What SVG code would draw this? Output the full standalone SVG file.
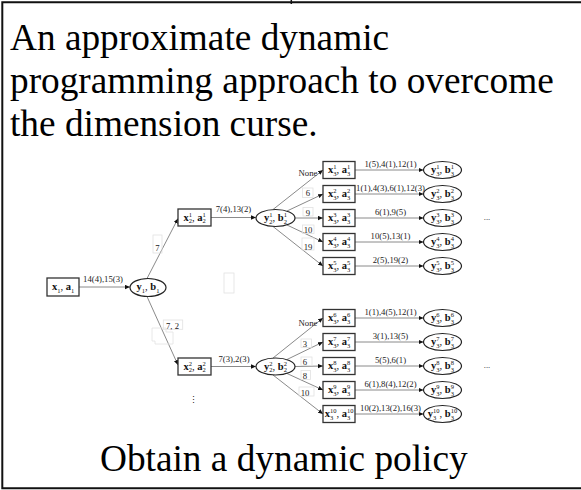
<svg xmlns="http://www.w3.org/2000/svg" width="581" height="490" viewBox="0 0 581 490">
<style>
.frame{fill:none;stroke:#111;stroke-width:2}
.title{font-family:"Liberation Serif","Times New Roman",serif;font-size:37.3px;fill:#000}
.box{fill:#fff;stroke:#333;stroke-width:1.3}
.ell{fill:#fff;stroke:#222;stroke-width:1.2}
.nl{font-family:"Liberation Serif","Times New Roman",serif;font-size:10.5px;fill:#111;text-anchor:middle}
.b{font-weight:bold}
.s{font-size:6.5px}
.edge{fill:none;stroke:#8a8a8a;stroke-width:1;marker-end:url(#ah)}
.el{font-family:"Liberation Serif","Times New Roman",serif;font-size:8.7px;fill:#222;text-anchor:middle}
.lb{fill:none;stroke:#e2e2e2;stroke-width:0.8}
.dots{font-family:"DejaVu Serif","Liberation Serif",serif;font-size:9px;fill:#222;text-anchor:middle}
</style>
<defs>
<marker id="ah" viewBox="0 0 6 6" refX="6" refY="3" markerWidth="5" markerHeight="5" orient="auto" markerUnits="userSpaceOnUse"><path d="M0,0.4 L6,3 L0,5.6 z" fill="#111"/></marker>
</defs>
<rect width="581" height="490" fill="#fff"/>
<path class="frame" d="M581,2.3 H2.3 V488.3 H581"/>
<line x1="291.3" y1="0" x2="291.3" y2="4" stroke="#111" stroke-width="1.5"/>

<g id="title">
<text class="title" x="10" y="50">An approximate dynamic</text>
<text class="title" x="10" y="93">programming approach to overcome</text>
<text class="title" x="10" y="136">the dimension curse.</text>
</g>
<text class="title" x="100" y="471">Obtain a dynamic policy</text>

<g id="connectors">
<line class="edge" x1="79" y1="287" x2="130" y2="287"/>
<line class="edge" x1="147" y1="278.5" x2="178" y2="218.5"/>
<line class="edge" x1="211" y1="217.5" x2="256" y2="217.5"/>
<line class="edge" x1="147" y1="296.5" x2="178" y2="365"/>
<line class="edge" x1="211" y1="366.5" x2="256" y2="366.5"/>
<line class="edge" x1="273" y1="209.5" x2="323" y2="170"/>
<line class="edge" x1="287" y1="211" x2="323" y2="194"/>
<line class="edge" x1="295" y1="218" x2="323" y2="218"/>
<line class="edge" x1="287" y1="225" x2="323" y2="242"/>
<line class="edge" x1="273" y1="226.5" x2="323" y2="266"/>
<line class="edge" x1="273" y1="358" x2="323" y2="318"/>
<line class="edge" x1="287" y1="359.5" x2="323" y2="342"/>
<line class="edge" x1="295" y1="366.5" x2="323" y2="366"/>
<line class="edge" x1="287" y1="373.5" x2="323" y2="390"/>
<line class="edge" x1="273" y1="375" x2="323" y2="414"/>
<line class="edge" x1="355" y1="170" x2="423.5" y2="170"/>
<line class="edge" x1="355" y1="194" x2="423.5" y2="194"/>
<line class="edge" x1="355" y1="218" x2="423.5" y2="218"/>
<line class="edge" x1="355" y1="242" x2="423.5" y2="242"/>
<line class="edge" x1="355" y1="266" x2="423.5" y2="266"/>
<line class="edge" x1="355" y1="318" x2="423.5" y2="318"/>
<line class="edge" x1="355" y1="342" x2="423.5" y2="342"/>
<line class="edge" x1="355" y1="366" x2="423.5" y2="366"/>
<line class="edge" x1="355" y1="390" x2="423.5" y2="390"/>
<line class="edge" x1="355" y1="414" x2="423.5" y2="414"/>
<!-- label boxes (faint) -->
<rect class="lb" x="153" y="235" width="9" height="18"/>
<rect class="lb" x="224" y="273" width="10" height="20"/>
<rect class="lb" x="163.3" y="320" width="19.4" height="9.3"/>
<path class="lb" d="M152,328 H166 V332 H173 V344 H155 V341 H152 Z"/>
<rect class="lb" x="302.5" y="188" width="10.5" height="9.5"/>
<rect class="lb" x="303" y="207.5" width="10" height="8.5"/>
<rect class="lb" x="302.5" y="225" width="11.5" height="8.5"/>
<rect class="lb" x="302" y="238" width="12" height="12"/>
<rect class="lb" x="301" y="339" width="10.5" height="8.5"/>
<rect class="lb" x="301" y="357" width="11" height="8.5"/>
<rect class="lb" x="301" y="370.5" width="9.5" height="9"/>
<rect class="lb" x="299" y="387" width="15" height="9"/>
<!-- edge labels -->
<text class="el" x="103" y="282">14(4),15(3)</text>
<text class="el" x="157.5" y="250.5">7</text>
<text class="el" x="233.5" y="212">7(4),13(2)</text>
<text class="el" x="172.5" y="328.5">7, 2</text>
<text class="el" x="234" y="362">7(3),2(3)</text>
<text class="el" x="308" y="176">None</text>
<text class="el" x="308" y="196">6</text>
<text class="el" x="308" y="215.5">9</text>
<text class="el" x="308" y="232.5">10</text>
<text class="el" x="308" y="250">19</text>
<text class="el" x="308" y="326">None</text>
<text class="el" x="305" y="346.5">3</text>
<text class="el" x="305" y="364.5">6</text>
<text class="el" x="305" y="378.5">8</text>
<text class="el" x="305" y="395.5">10</text>
<text class="el" x="390.5" y="166.5">1(5),4(1),12(1)</text>
<text class="el" x="390.5" y="190.5">1(1),4(3),6(1),12(3)</text>
<text class="el" x="390.5" y="214.5">6(1),9(5)</text>
<text class="el" x="390.5" y="238.5">10(5),13(1)</text>
<text class="el" x="390.5" y="262.5">2(5),19(2)</text>
<text class="el" x="390.5" y="314.5">1(1),4(5),12(1)</text>
<text class="el" x="390.5" y="338.5">3(1),13(5)</text>
<text class="el" x="390.5" y="362.5">5(5),6(1)</text>
<text class="el" x="390.5" y="386.5">6(1),8(4),12(2)</text>
<text class="el" x="390.5" y="410.5">10(2),13(2),16(3)</text>
</g>

<g id="n-x1"><rect class="box" x="47" y="278" width="32" height="18"/>
<text class="nl" x="63" y="290"><tspan class="b">x</tspan><tspan class="s" dy="2.5">1</tspan><tspan dy="-2.5">, </tspan><tspan class="b">a</tspan><tspan class="s" dy="2.5">1</tspan></text></g>
<g id="n-y1"><ellipse class="ell" cx="148" cy="287.5" rx="18" ry="9"/>
<text class="nl" x="148" y="290"><tspan class="b">y</tspan><tspan class="s" dy="2.5">1</tspan><tspan dy="-2.5">, </tspan><tspan class="b">b</tspan><tspan class="s" dy="2.5">1</tspan></text></g>

<g id="n-x2-1"><rect class="box" x="178" y="209" width="33" height="17"/>
<text class="nl" x="194.5" y="220.5"><tspan class="b">x</tspan><tspan class="s" dy="-3.8">1</tspan><tspan class="s" dx="-3.25" dy="6.6">2</tspan><tspan dy="-2.8">, </tspan><tspan class="b">a</tspan><tspan class="s" dy="-3.8">1</tspan><tspan class="s" dx="-3.25" dy="6.6">2</tspan></text></g>
<g id="n-y2-1"><ellipse class="ell" cx="275.5" cy="218" rx="19.5" ry="8.5"/>
<text class="nl" x="275.5" y="221"><tspan class="b">y</tspan><tspan class="s" dy="-3.8">1</tspan><tspan class="s" dx="-3.25" dy="6.6">2</tspan><tspan dy="-2.8">, </tspan><tspan class="b">b</tspan><tspan class="s" dy="-3.8">1</tspan><tspan class="s" dx="-3.25" dy="6.6">2</tspan></text></g>

<g id="n-x2-2"><rect class="box" x="178" y="358" width="33" height="17"/>
<text class="nl" x="194.5" y="369.5"><tspan class="b">x</tspan><tspan class="s" dy="-3.8">2</tspan><tspan class="s" dx="-3.25" dy="6.6">2</tspan><tspan dy="-2.8">, </tspan><tspan class="b">a</tspan><tspan class="s" dy="-3.8">2</tspan><tspan class="s" dx="-3.25" dy="6.6">2</tspan></text></g>
<g id="n-y2-2"><ellipse class="ell" cx="275.5" cy="366.5" rx="19.5" ry="8.5"/>
<text class="nl" x="275.5" y="369.5"><tspan class="b">y</tspan><tspan class="s" dy="-3.8">2</tspan><tspan class="s" dx="-3.25" dy="6.6">2</tspan><tspan dy="-2.8">, </tspan><tspan class="b">b</tspan><tspan class="s" dy="-3.8">2</tspan><tspan class="s" dx="-3.25" dy="6.6">2</tspan></text></g>
<text id="vdots" class="dots" x="193.3" y="403">⋮</text>

<g id="n-x3-1"><rect class="box" x="323" y="161.5" width="32" height="17"/>
<text class="nl" x="339" y="173"><tspan class="b">x</tspan><tspan class="s" dy="-3.8">1</tspan><tspan class="s" dx="-3.25" dy="6.6">3</tspan><tspan dy="-2.8">, </tspan><tspan class="b">a</tspan><tspan class="s" dy="-3.8">1</tspan><tspan class="s" dx="-3.25" dy="6.6">3</tspan></text></g>
<g id="n-x3-2"><rect class="box" x="323" y="185.5" width="32" height="17"/>
<text class="nl" x="339" y="197"><tspan class="b">x</tspan><tspan class="s" dy="-3.8">2</tspan><tspan class="s" dx="-3.25" dy="6.6">3</tspan><tspan dy="-2.8">, </tspan><tspan class="b">a</tspan><tspan class="s" dy="-3.8">2</tspan><tspan class="s" dx="-3.25" dy="6.6">3</tspan></text></g>
<g id="n-x3-3"><rect class="box" x="323" y="209.5" width="32" height="17"/>
<text class="nl" x="339" y="221"><tspan class="b">x</tspan><tspan class="s" dy="-3.8">3</tspan><tspan class="s" dx="-3.25" dy="6.6">3</tspan><tspan dy="-2.8">, </tspan><tspan class="b">a</tspan><tspan class="s" dy="-3.8">3</tspan><tspan class="s" dx="-3.25" dy="6.6">3</tspan></text></g>
<g id="n-x3-4"><rect class="box" x="323" y="233.5" width="32" height="17"/>
<text class="nl" x="339" y="245"><tspan class="b">x</tspan><tspan class="s" dy="-3.8">4</tspan><tspan class="s" dx="-3.25" dy="6.6">3</tspan><tspan dy="-2.8">, </tspan><tspan class="b">a</tspan><tspan class="s" dy="-3.8">4</tspan><tspan class="s" dx="-3.25" dy="6.6">3</tspan></text></g>
<g id="n-x3-5"><rect class="box" x="323" y="257.5" width="32" height="17"/>
<text class="nl" x="339" y="269"><tspan class="b">x</tspan><tspan class="s" dy="-3.8">5</tspan><tspan class="s" dx="-3.25" dy="6.6">3</tspan><tspan dy="-2.8">, </tspan><tspan class="b">a</tspan><tspan class="s" dy="-3.8">5</tspan><tspan class="s" dx="-3.25" dy="6.6">3</tspan></text></g>
<g id="n-x3-6"><rect class="box" x="323" y="309.5" width="32" height="17"/>
<text class="nl" x="339" y="321"><tspan class="b">x</tspan><tspan class="s" dy="-3.8">6</tspan><tspan class="s" dx="-3.25" dy="6.6">3</tspan><tspan dy="-2.8">, </tspan><tspan class="b">a</tspan><tspan class="s" dy="-3.8">6</tspan><tspan class="s" dx="-3.25" dy="6.6">3</tspan></text></g>
<g id="n-x3-7"><rect class="box" x="323" y="333.5" width="32" height="17"/>
<text class="nl" x="339" y="345"><tspan class="b">x</tspan><tspan class="s" dy="-3.8">7</tspan><tspan class="s" dx="-3.25" dy="6.6">3</tspan><tspan dy="-2.8">, </tspan><tspan class="b">a</tspan><tspan class="s" dy="-3.8">7</tspan><tspan class="s" dx="-3.25" dy="6.6">3</tspan></text></g>
<g id="n-x3-8"><rect class="box" x="323" y="357.5" width="32" height="17"/>
<text class="nl" x="339" y="369"><tspan class="b">x</tspan><tspan class="s" dy="-3.8">8</tspan><tspan class="s" dx="-3.25" dy="6.6">3</tspan><tspan dy="-2.8">, </tspan><tspan class="b">a</tspan><tspan class="s" dy="-3.8">8</tspan><tspan class="s" dx="-3.25" dy="6.6">3</tspan></text></g>
<g id="n-x3-9"><rect class="box" x="323" y="381.5" width="32" height="17"/>
<text class="nl" x="339" y="393"><tspan class="b">x</tspan><tspan class="s" dy="-3.8">9</tspan><tspan class="s" dx="-3.25" dy="6.6">3</tspan><tspan dy="-2.8">, </tspan><tspan class="b">a</tspan><tspan class="s" dy="-3.8">9</tspan><tspan class="s" dx="-3.25" dy="6.6">3</tspan></text></g>
<g id="n-x3-10"><rect class="box" x="323" y="405.5" width="32" height="17"/>
<text class="nl" x="339" y="417"><tspan class="b">x</tspan><tspan class="s" dy="-3.8">10</tspan><tspan class="s" dx="-6.5" dy="6.6">3</tspan><tspan dx="3.25" dy="-2.8">, </tspan><tspan class="b">a</tspan><tspan class="s" dy="-3.8">10</tspan><tspan class="s" dx="-6.5" dy="6.6">3</tspan></text></g>

<g id="n-y3-1"><ellipse class="ell" cx="442.5" cy="170" rx="19" ry="8.5"/>
<text class="nl" x="442.5" y="173"><tspan class="b">y</tspan><tspan class="s" dy="-3.8">1</tspan><tspan class="s" dx="-3.25" dy="6.6">3</tspan><tspan dy="-2.8">, </tspan><tspan class="b">b</tspan><tspan class="s" dy="-3.8">1</tspan><tspan class="s" dx="-3.25" dy="6.6">3</tspan></text></g>
<g id="n-y3-2"><ellipse class="ell" cx="442.5" cy="194" rx="19" ry="8.5"/>
<text class="nl" x="442.5" y="197"><tspan class="b">y</tspan><tspan class="s" dy="-3.8">2</tspan><tspan class="s" dx="-3.25" dy="6.6">3</tspan><tspan dy="-2.8">, </tspan><tspan class="b">b</tspan><tspan class="s" dy="-3.8">2</tspan><tspan class="s" dx="-3.25" dy="6.6">3</tspan></text></g>
<g id="n-y3-3"><ellipse class="ell" cx="442.5" cy="218" rx="19" ry="8.5"/>
<text class="nl" x="442.5" y="221"><tspan class="b">y</tspan><tspan class="s" dy="-3.8">3</tspan><tspan class="s" dx="-3.25" dy="6.6">3</tspan><tspan dy="-2.8">, </tspan><tspan class="b">b</tspan><tspan class="s" dy="-3.8">3</tspan><tspan class="s" dx="-3.25" dy="6.6">3</tspan></text></g>
<g id="n-y3-4"><ellipse class="ell" cx="442.5" cy="242" rx="19" ry="8.5"/>
<text class="nl" x="442.5" y="245"><tspan class="b">y</tspan><tspan class="s" dy="-3.8">4</tspan><tspan class="s" dx="-3.25" dy="6.6">3</tspan><tspan dy="-2.8">, </tspan><tspan class="b">b</tspan><tspan class="s" dy="-3.8">4</tspan><tspan class="s" dx="-3.25" dy="6.6">3</tspan></text></g>
<g id="n-y3-5"><ellipse class="ell" cx="442.5" cy="266" rx="19" ry="8.5"/>
<text class="nl" x="442.5" y="269"><tspan class="b">y</tspan><tspan class="s" dy="-3.8">5</tspan><tspan class="s" dx="-3.25" dy="6.6">3</tspan><tspan dy="-2.8">, </tspan><tspan class="b">b</tspan><tspan class="s" dy="-3.8">5</tspan><tspan class="s" dx="-3.25" dy="6.6">3</tspan></text></g>
<g id="n-y3-6"><ellipse class="ell" cx="442.5" cy="318" rx="19" ry="8.5"/>
<text class="nl" x="442.5" y="321"><tspan class="b">y</tspan><tspan class="s" dy="-3.8">6</tspan><tspan class="s" dx="-3.25" dy="6.6">3</tspan><tspan dy="-2.8">, </tspan><tspan class="b">b</tspan><tspan class="s" dy="-3.8">6</tspan><tspan class="s" dx="-3.25" dy="6.6">3</tspan></text></g>
<g id="n-y3-7"><ellipse class="ell" cx="442.5" cy="342" rx="19" ry="8.5"/>
<text class="nl" x="442.5" y="345"><tspan class="b">y</tspan><tspan class="s" dy="-3.8">7</tspan><tspan class="s" dx="-3.25" dy="6.6">3</tspan><tspan dy="-2.8">, </tspan><tspan class="b">b</tspan><tspan class="s" dy="-3.8">7</tspan><tspan class="s" dx="-3.25" dy="6.6">3</tspan></text></g>
<g id="n-y3-8"><ellipse class="ell" cx="442.5" cy="366" rx="19" ry="8.5"/>
<text class="nl" x="442.5" y="369"><tspan class="b">y</tspan><tspan class="s" dy="-3.8">8</tspan><tspan class="s" dx="-3.25" dy="6.6">3</tspan><tspan dy="-2.8">, </tspan><tspan class="b">b</tspan><tspan class="s" dy="-3.8">8</tspan><tspan class="s" dx="-3.25" dy="6.6">3</tspan></text></g>
<g id="n-y3-9"><ellipse class="ell" cx="442.5" cy="390" rx="19" ry="8.5"/>
<text class="nl" x="442.5" y="393"><tspan class="b">y</tspan><tspan class="s" dy="-3.8">9</tspan><tspan class="s" dx="-3.25" dy="6.6">3</tspan><tspan dy="-2.8">, </tspan><tspan class="b">b</tspan><tspan class="s" dy="-3.8">9</tspan><tspan class="s" dx="-3.25" dy="6.6">3</tspan></text></g>
<g id="n-y3-10"><ellipse class="ell" cx="442.5" cy="414" rx="19" ry="8.5"/>
<text class="nl" x="442.5" y="417"><tspan class="b">y</tspan><tspan class="s" dy="-3.8">10</tspan><tspan class="s" dx="-6.5" dy="6.6">3</tspan><tspan dx="3.25" dy="-2.8">, </tspan><tspan class="b">b</tspan><tspan class="s" dy="-3.8">10</tspan><tspan class="s" dx="-6.5" dy="6.6">3</tspan></text></g>

<text id="more-1" class="el" x="487" y="220">...</text>
<text id="more-2" class="el" x="487" y="368">...</text>
</svg>
